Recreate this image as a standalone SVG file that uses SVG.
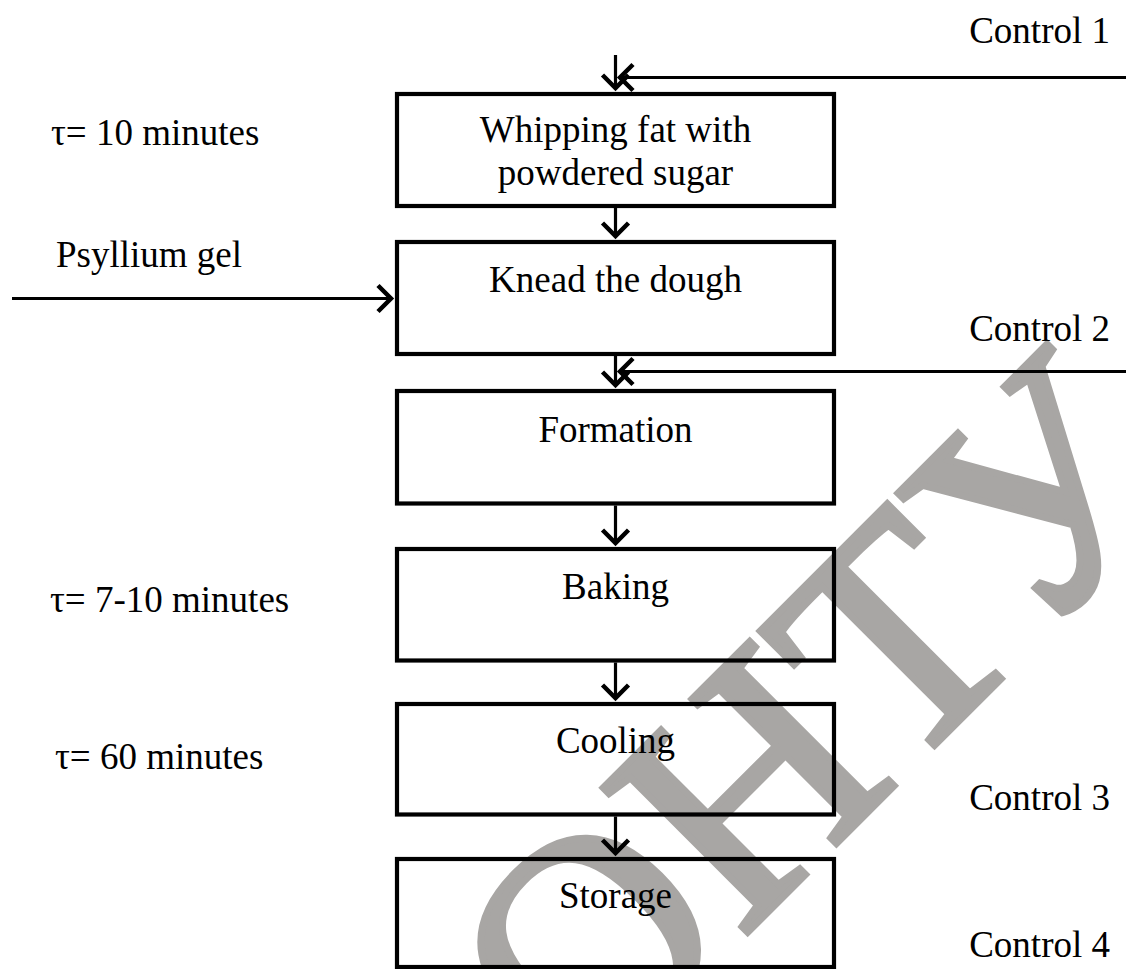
<svg xmlns="http://www.w3.org/2000/svg" width="1126" height="969" viewBox="0 0 1126 969">
  <style>
    .box { fill: none; stroke: #000; stroke-width: 4.2; }
    .t { font-family: "Liberation Serif", "Times New Roman", serif; font-size: 37px; fill: #000; }
    .c { text-anchor: middle; }
    .e { text-anchor: end; }
    .ln { stroke: #000; stroke-width: 3.2; fill: none; }
    .wm { font-family: "Liberation Serif", "Times New Roman", serif; font-size: 312px; fill: #a8a6a4; stroke: #a8a6a4; stroke-width: 7; stroke-linejoin: miter; }
  </style>
  <defs>
    <marker id="ah" markerUnits="userSpaceOnUse" markerWidth="34" markerHeight="34" viewBox="-17 -17 34 34" refX="0" refY="0" orient="auto" overflow="visible">
      <path d="M-13,-13 L0,0 L-13,13" fill="none" stroke="#000" stroke-width="4.5" stroke-linejoin="miter"/>
    </marker>
  </defs>
  <rect width="1126" height="969" fill="#fff"/>

  <g id="watermark">
    <text class="wm" transform="translate(582,1098) rotate(-45)">ОНТУ</text>
  </g>

  <g id="connectors">
    <line class="ln" x1="615.5" y1="55" x2="615.5" y2="88" marker-end="url(#ah)"/>
    <line class="ln" x1="1126" y1="77.5" x2="620" y2="77.5" marker-end="url(#ah)"/>
    <line class="ln" x1="615.5" y1="208" x2="615.5" y2="236" marker-end="url(#ah)"/>
    <line class="ln" x1="12" y1="298.5" x2="391" y2="298.5" marker-end="url(#ah)"/>
    <line class="ln" x1="615.5" y1="356" x2="615.5" y2="385" marker-end="url(#ah)"/>
    <line class="ln" x1="1126" y1="371.5" x2="620" y2="371.5" marker-end="url(#ah)"/>
    <line class="ln" x1="615.5" y1="505.5" x2="615.5" y2="543" marker-end="url(#ah)"/>
    <line class="ln" x1="615.5" y1="662.5" x2="615.5" y2="698" marker-end="url(#ah)"/>
    <line class="ln" x1="615.5" y1="816.5" x2="615.5" y2="853" marker-end="url(#ah)"/>
  </g>

  <g id="node-whipping">
    <rect class="box" x="397" y="94" width="437" height="112"/>
    <text class="t c" x="615.5" y="142">Whipping fat with</text>
    <text class="t c" x="615.5" y="185">powdered sugar</text>
  </g>
  <g id="node-knead">
    <rect class="box" x="397" y="242" width="437" height="112"/>
    <text class="t c" x="615.5" y="292">Knead the dough</text>
  </g>
  <g id="node-formation">
    <rect class="box" x="397" y="391" width="437" height="112.5"/>
    <text class="t c" x="615.5" y="442">Formation</text>
  </g>
  <g id="node-baking">
    <rect class="box" x="397" y="549" width="437" height="111.5"/>
    <text class="t c" x="615.5" y="599">Baking</text>
  </g>
  <g id="node-cooling">
    <rect class="box" x="397" y="704" width="437" height="110.5"/>
    <text class="t c" x="615.5" y="753">Cooling</text>
  </g>
  <g id="node-storage">
    <rect class="box" x="397" y="859" width="437" height="108"/>
    <text class="t c" x="615.5" y="908">Storage</text>
  </g>

  <g id="labels">
    <text class="t e" x="1110" y="43">Control 1</text>
    <text class="t e" x="1110" y="341">Control 2</text>
    <text class="t e" x="1110" y="810">Control 3</text>
    <text class="t e" x="1110" y="957">Control 4</text>
    <text class="t" x="51" y="145">τ= 10 minutes</text>
    <text class="t" x="56" y="267">Psyllium gel</text>
    <text class="t" x="50" y="612">τ= 7-10 minutes</text>
    <text class="t" x="55" y="769">τ= 60 minutes</text>
  </g>
</svg>
